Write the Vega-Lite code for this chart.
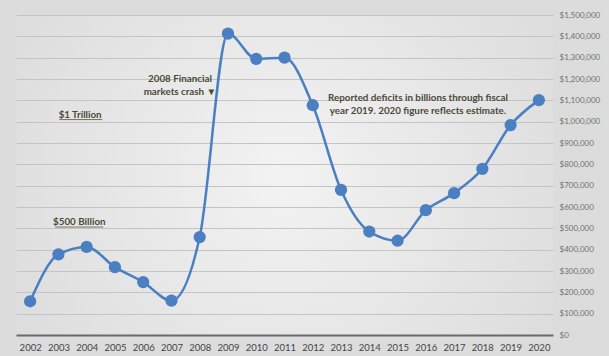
{
  "$schema": "https://vega.github.io/schema/vega-lite/v6.json",
  "width": 537,
  "height": 320,
  "autosize": {"type": "none"},
  "padding": {"left": 16, "top": 15, "right": 56, "bottom": 21},
  "background": "#dcdcdc",
  "config": {
    "view": {"stroke": null, "fill": {"gradient": "radial", "x1": 0.5, "y1": 0.5, "x2": 0.5, "y2": 0.5, "r1": 0, "r2": 0.75, "stops": [{"offset": 0, "color": "#f3f3f3"}, {"offset": 1, "color": "#d6d6d6"}]}},
    "font": "Lato"
  },
  "datasets": {
    "deficits": [
      {"year": 2002, "value": 158000},
      {"year": 2003, "value": 378000},
      {"year": 2004, "value": 413000},
      {"year": 2005, "value": 318000},
      {"year": 2006, "value": 248000},
      {"year": 2007, "value": 161000},
      {"year": 2008, "value": 459000},
      {"year": 2009, "value": 1413000},
      {"year": 2010, "value": 1294000},
      {"year": 2011, "value": 1300000},
      {"year": 2012, "value": 1077000},
      {"year": 2013, "value": 680000},
      {"year": 2014, "value": 485000},
      {"year": 2015, "value": 442000},
      {"year": 2016, "value": 585000},
      {"year": 2017, "value": 665000},
      {"year": 2018, "value": 779000},
      {"year": 2019, "value": 984000},
      {"year": 2020, "value": 1101000}
    ],
    "notes": [
      {"year": 2007.3, "value": 1200000, "label": ["2008 Financial", "markets crash ▼"]},
      {"year": 2003.77, "value": 1033000, "label": ["$1 Trillion"]},
      {"year": 2003.74, "value": 530000, "label": ["$500 Billion"]},
      {"year": 2015.72, "value": 1113000, "label": ["Reported deficits in billions through fiscal", "year 2019. 2020 figure reflects estimate."]}
    ],
    "underlines": [
      {"year": 2003.03, "year2": 2004.55, "value": 1010000},
      {"year": 2002.89, "year2": 2004.59, "value": 506000}
    ]
  },
  "encoding": {
    "x": {
      "field": "year", "type": "quantitative",
      "scale": {"domain": [2001.5, 2020.5], "nice": false, "zero": false},
      "axis": {"title": null, "values": [2002,2003,2004,2005,2006,2007,2008,2009,2010,2011,2012,2013,2014,2015,2016,2017,2018,2019,2020], "format": "d", "grid": false, "ticks": false, "domain": true, "domainColor": "#6a6a6a", "domainWidth": 2, "zindex": 1, "labelFontSize": 9.5, "labelColor": "#444444", "labelPadding": 7, "labelOverlap": false, "labelFlush": false, "labelBound": false}
    },
    "y": {
      "field": "value", "type": "quantitative",
      "scale": {"domain": [0, 1500000], "nice": false},
      "axis": {"title": null, "orient": "right", "values": [0,100000,200000,300000,400000,500000,600000,700000,800000,900000,1000000,1100000,1200000,1300000,1400000,1500000], "format": "$,.0f", "grid": true, "gridColor": "#c4c4c4", "gridWidth": 1, "ticks": false, "domain": false, "labelFontSize": 8, "labelColor": "#707070", "labelPadding": 6, "labelOverlap": false, "labelFlush": false, "labelBound": false}
    }
  },
  "layer": [
    {
      "data": {"name": "deficits"},
      "mark": {"type": "line", "interpolate": "monotone", "color": "#4a7fc2", "strokeWidth": 2.5}
    },
    {
      "data": {"name": "deficits"},
      "mark": {"type": "point", "filled": true, "size": 150, "color": "#4a7fc2", "opacity": 1}
    },
    {
      "data": {"name": "notes"},
      "mark": {"type": "text", "fontWeight": "bold", "fontSize": 9.8, "color": "#4a4a3a", "align": "center", "baseline": "middle", "lineHeight": 13},
      "encoding": {
        "text": {"field": "label"}
      }
    },
    {
      "data": {"name": "underlines"},
      "mark": {"type": "rule", "color": "#5a5a40", "strokeWidth": 0.8},
      "encoding": {
        "x2": {"field": "year2"}
      }
    }
  ]
}
